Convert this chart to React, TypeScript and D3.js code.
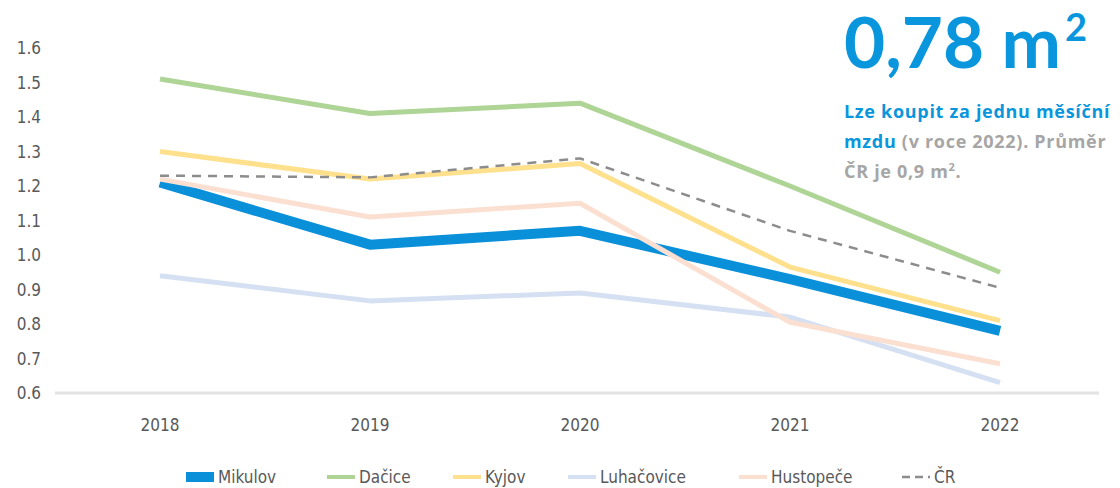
import React from 'react';
import * as d3 from 'd3';

const years = ['2018', '2019', '2020', '2021', '2022'];
const yTicks = [0.6, 0.7, 0.8, 0.9, 1.0, 1.1, 1.2, 1.3, 1.4, 1.5, 1.6];

const mikulov = [1.21, 1.03, 1.07, 0.93, 0.78];
const dacice = [1.51, 1.41, 1.44, 1.2, 0.95];
const kyjov = [1.3, 1.22, 1.265, 0.965, 0.81];
const luhacovice = [0.94, 0.867, 0.89, 0.82, 0.63];
const hustopece = [1.22, 1.11, 1.15, 0.805, 0.685];
const cr = [1.23, 1.225, 1.28, 1.07, 0.905];

const seriesNames = ['Mikulov', 'Dačice', 'Kyjov', 'Luhačovice', 'Hustopeče', 'ČR'];
const seriesValues = [mikulov, dacice, kyjov, luhacovice, hustopece, cr];
const seriesColors = ['#0a8fd9', '#aed496', '#ffe08c', '#d6e0f3', '#fbe0d2', '#8c8c8c'];
const seriesWidths = [10, 5, 5, 5, 5, 2.5];

const width = 1120;
const height = 488;
const axisFont = '"DejaVu Sans Condensed", "Liberation Sans Narrow", sans-serif';
const noteFont = '"Open Sans", Lato, sans-serif';

const App = () => {
  const x = d3.scalePoint<string>().domain(years).range([55, 1105]).padding(0.5);
  const y = d3.scaleLinear().domain([0.6, 1.6]).range([393, 48]);
  const line = d3.line<number>()
    .x((d, i) => x(years[i]) as number)
    .y(d => y(d));

  // legend item positions (swatch start)
  const legendX = [186, 327, 453, 568, 739, 902];

  return (
    <svg width={width} height={height} style={{ position: 'absolute', left: 0, top: 0, background: '#fff' }}>
      {/* y axis labels */}
      {yTicks.map(t => (
        <text key={t} x={41} y={y(t) + 6} textAnchor="end" fontSize={17}
          fontFamily={axisFont} fill="#595959">{t.toFixed(1)}</text>
      ))}
      {/* baseline */}
      <line x1={55} x2={1099} y1={y(0.6)} y2={y(0.6)} stroke="#e3e3e3" strokeWidth={3} />
      {years.map(yr => (
        <text key={yr} x={x(yr)} y={431} textAnchor="middle" fontSize={17}
          fontFamily={axisFont} fill="#595959">{yr}</text>
      ))}
      {/* lines */}
      {seriesValues.map((vals, i) => (
        <path key={seriesNames[i]} d={line(vals) || ''} fill="none"
          stroke={seriesColors[i]} strokeWidth={seriesWidths[i]}
          strokeLinejoin="round"
          strokeDasharray={i === 5 ? '9 7' : undefined} />
      ))}
      {/* legend */}
      {seriesNames.map((name, i) => (
        <g key={name} transform={`translate(${legendX[i]},477)`}>
          <line x1={0} x2={28} y1={0} y2={0} stroke={seriesColors[i]}
            strokeWidth={i === 0 ? 10 : i === 5 ? 2.5 : 4}
            strokeDasharray={i === 5 ? '8 5' : undefined} />
          <text x={32} y={6} fontSize={17} fontFamily={axisFont} fill="#595959">{name}</text>
        </g>
      ))}
      {/* headline */}
      <text x={844} y={68} fontSize={71} fontWeight={700} fontFamily="Lato, 'Open Sans', sans-serif" fill="#0a96dc">
        0,78 m<tspan dx={4} dy={-27} fontSize={38}>2</tspan>
      </text>
      <g fontFamily={noteFont} fontWeight={700} fontSize={18} letterSpacing={0.7}>
        <text x={844} y={118} fill="#0a96dc">Lze koupit za jednu měsíční</text>
        <text x={844} y={148} fill="#a6a6a6">
          <tspan fill="#0a96dc">mzdu</tspan> (v roce 2022). Průměr
        </text>
        <text x={844} y={178} fill="#a6a6a6">
          ČR je 0,9 m<tspan dy={-7} fontSize={11}>2</tspan><tspan dy={7}>.</tspan>
        </text>
      </g>
    </svg>
  );
};

export default App;
